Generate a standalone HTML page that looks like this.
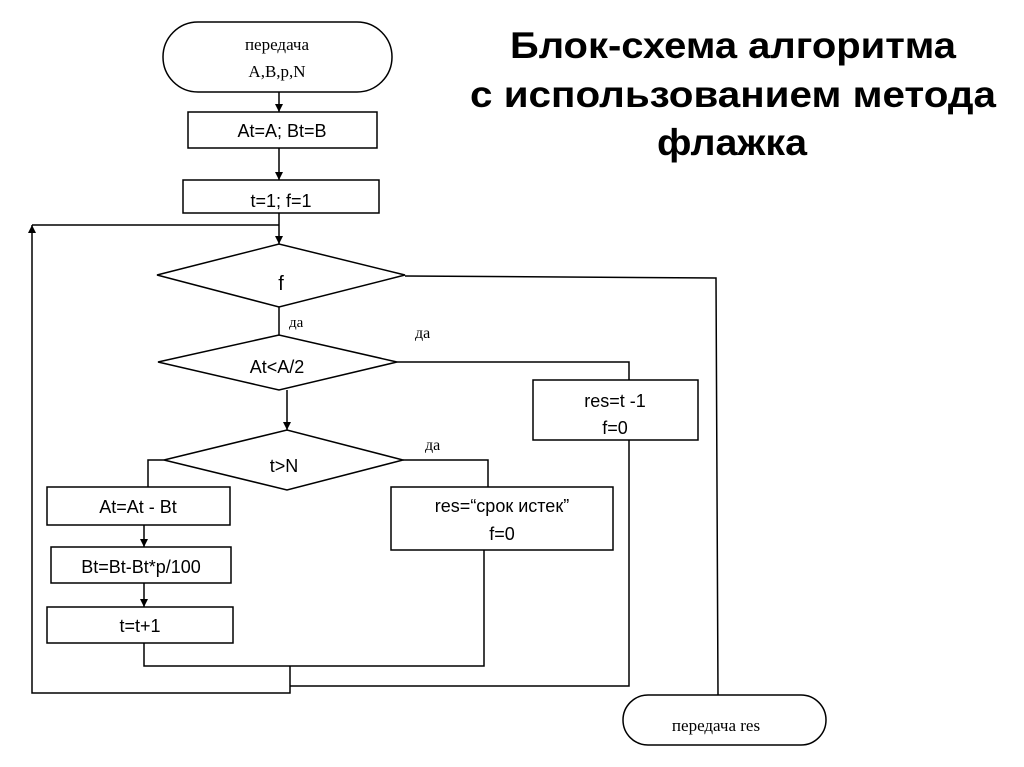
<!DOCTYPE html>
<html><head><meta charset="utf-8"><style>
html,body{margin:0;padding:0;background:#fff;}
svg{display:block;}
text{font-family:"Liberation Sans",Arial,sans-serif;fill:#000;}
.s{font-family:"Liberation Serif",serif;}
</style></head><body>
<svg width="1024" height="767" viewBox="0 0 1024 767" xmlns="http://www.w3.org/2000/svg">
<defs><marker id="a" markerWidth="8" markerHeight="8" refX="4" refY="7" orient="auto" markerUnits="userSpaceOnUse"><path d="M0,0 L4,8 L8,0 z" fill="#000" transform="rotate(0)"/></marker>
<marker id="ad" viewBox="0 0 8 10" markerWidth="8" markerHeight="10" refX="8" refY="5" orient="auto" markerUnits="userSpaceOnUse"><path d="M0,1 L8,5 L0,9 z" fill="#000"/></marker></defs>
<g fill="none" stroke="#000" stroke-width="1.5">
<rect x="163" y="22" width="229" height="70" rx="35"/>
<rect x="188" y="112" width="189" height="36"/>
<rect x="183" y="180" width="196" height="33"/>
<polygon points="157,275 279,244 405,275 279,307"/>
<polygon points="158,362 279,335 397,362 279,390"/>
<polygon points="164,460 287,430 403,460 287,490"/>
<rect x="533" y="380" width="165" height="60"/>
<rect x="47" y="487" width="183" height="38"/>
<rect x="51" y="547" width="180" height="36"/>
<rect x="47" y="607" width="186" height="36"/>
<rect x="391" y="487" width="222" height="63"/>
<rect x="623" y="695" width="203" height="50" rx="25"/>
<line x1="279" y1="92" x2="279" y2="112" marker-end="url(#ad)"/>
<line x1="279" y1="148" x2="279" y2="180" marker-end="url(#ad)"/>
<line x1="279" y1="213" x2="279" y2="244" marker-end="url(#ad)"/>
<polyline points="279,225 32,225"/>
<polyline points="290,666 290,693 32,693 32,225" marker-end="url(#ad)"/>
<line x1="279" y1="307" x2="279" y2="335"/>
<polyline points="405,276 716,278 718,695"/>
<polyline points="397,362 629,362 629,380"/>
<line x1="287" y1="390" x2="287" y2="430" marker-end="url(#ad)"/>
<polyline points="164,460 148,460 148,487"/>
<polyline points="403,460 488,460 488,487"/>
<line x1="144" y1="525" x2="144" y2="547" marker-end="url(#ad)"/>
<line x1="144" y1="583" x2="144" y2="607" marker-end="url(#ad)"/>
<polyline points="144,643 144,666 484,666 484,550"/>
<polyline points="290,686 629,686 629,440"/>
</g>
<text class="s" x="277" y="50" font-size="17" text-anchor="middle">передача</text>
<text class="s" x="277" y="77" font-size="17" text-anchor="middle">A,B,p,N</text>
<text x="282" y="137" font-size="18" text-anchor="middle">At=A; Bt=B</text>
<text x="281" y="207" font-size="18" text-anchor="middle">t=1; f=1</text>
<text x="281" y="290" font-size="20" text-anchor="middle">f</text>
<text x="277" y="373" font-size="18" text-anchor="middle">At&lt;A/2</text>
<text x="284" y="472" font-size="18" text-anchor="middle">t&gt;N</text>
<text class="s" x="289" y="327" font-size="15">да</text>
<text class="s" x="415" y="338" font-size="16">да</text>
<text class="s" x="425" y="450" font-size="16">да</text>
<text x="615" y="407" font-size="18" text-anchor="middle">res=t -1</text>
<text x="615" y="434" font-size="18" text-anchor="middle">f=0</text>
<text x="138" y="513" font-size="18" text-anchor="middle">At=At - Bt</text>
<text x="141" y="573" font-size="18" text-anchor="middle">Bt=Bt-Bt*p/100</text>
<text x="140" y="632" font-size="18" text-anchor="middle">t=t+1</text>
<text x="502" y="512" font-size="18" text-anchor="middle">res=“срок истек”</text>
<text x="502" y="540" font-size="18" text-anchor="middle">f=0</text>
<text class="s" x="716" y="731" font-size="17" text-anchor="middle">передача res</text>
<text x="733" y="58" font-size="37" font-weight="bold" text-anchor="middle" textLength="446" lengthAdjust="spacingAndGlyphs">Блок-схема алгоритма</text>
<text x="733" y="107" font-size="37" font-weight="bold" text-anchor="middle" textLength="526" lengthAdjust="spacingAndGlyphs">с использованием метода</text>
<text x="732" y="155" font-size="37" font-weight="bold" text-anchor="middle" textLength="150" lengthAdjust="spacingAndGlyphs">флажка</text>
</svg>
</body></html>
